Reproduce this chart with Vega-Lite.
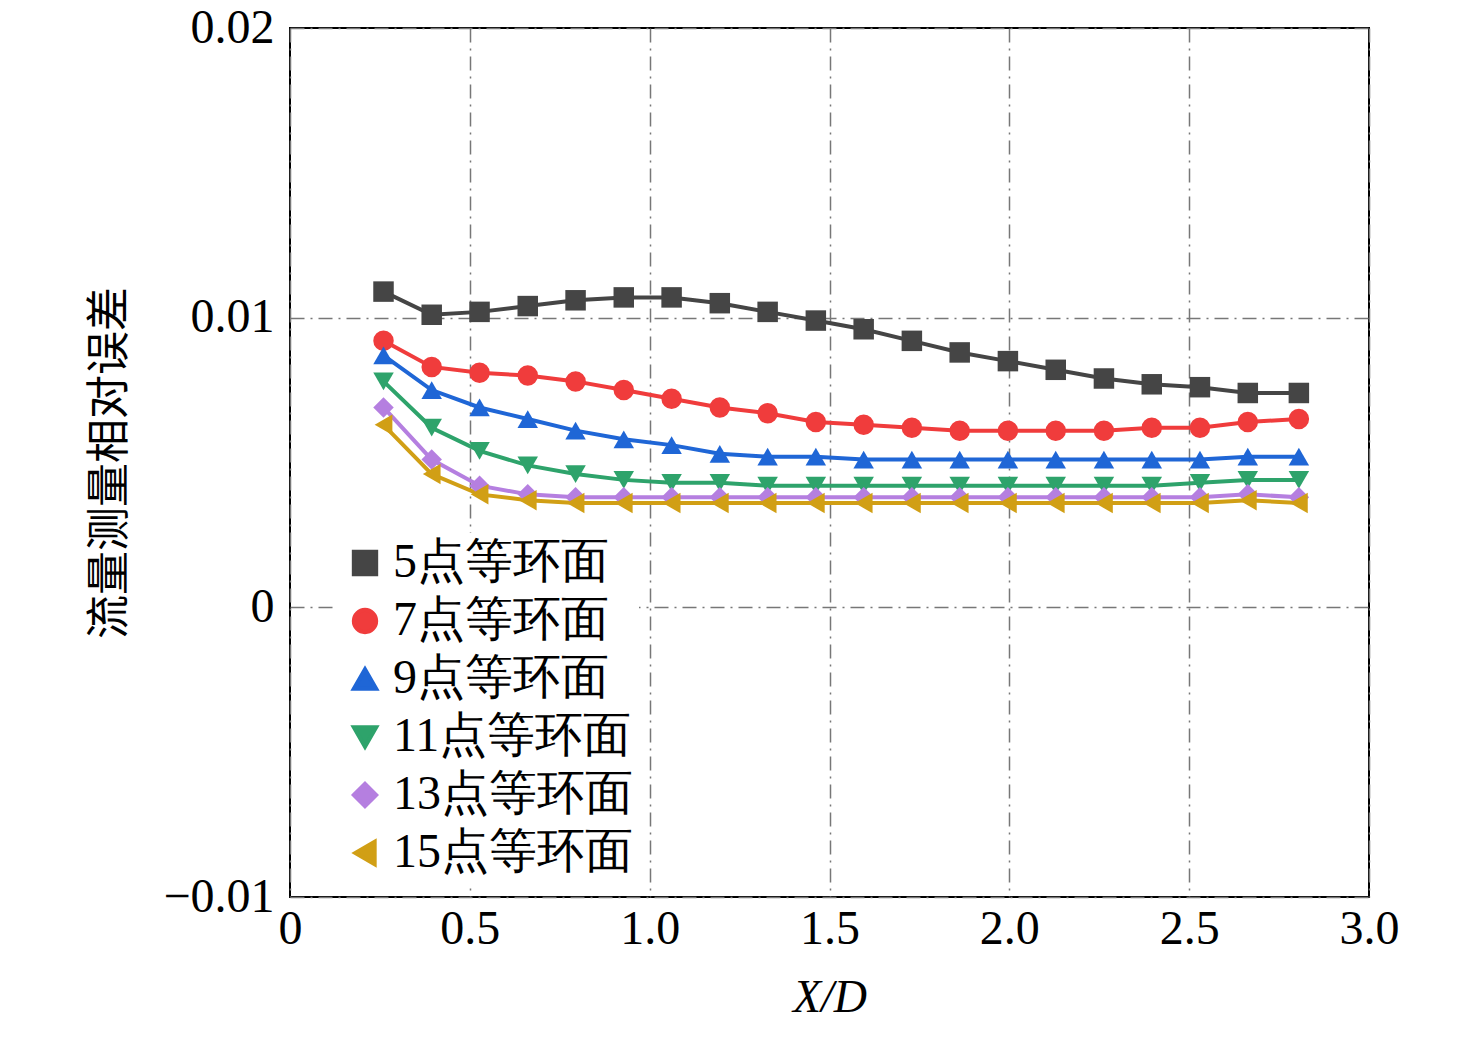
{
"$schema":"https://vega.github.io/schema/vega-lite/v6.json",
"width":1079,"height":869,
"autosize":"none",
"padding":{"left":290,"top":28,"right":107,"bottom":154},
"background":"white",
"config":{"view":{"stroke":"black","strokeWidth":2},"font":"Liberation Serif"},
"data":{"values":[
{"x":0.26,"v":0.0109,"s":"5点等环面"},{"x":0.394,"v":0.0101,"s":"5点等环面"},{"x":0.527,"v":0.0102,"s":"5点等环面"},{"x":0.661,"v":0.0104,"s":"5点等环面"},{"x":0.794,"v":0.0106,"s":"5点等环面"},{"x":0.928,"v":0.0107,"s":"5点等环面"},{"x":1.061,"v":0.0107,"s":"5点等环面"},{"x":1.195,"v":0.0105,"s":"5点等环面"},{"x":1.328,"v":0.0102,"s":"5点等环面"},{"x":1.462,"v":0.0099,"s":"5点等环面"},{"x":1.595,"v":0.0096,"s":"5点等环面"},{"x":1.729,"v":0.0092,"s":"5点等环面"},{"x":1.862,"v":0.0088,"s":"5点等环面"},{"x":1.996,"v":0.0085,"s":"5点等环面"},{"x":2.129,"v":0.0082,"s":"5点等环面"},{"x":2.263,"v":0.0079,"s":"5点等环面"},{"x":2.396,"v":0.0077,"s":"5点等环面"},{"x":2.53,"v":0.0076,"s":"5点等环面"},{"x":2.663,"v":0.0074,"s":"5点等环面"},{"x":2.805,"v":0.0074,"s":"5点等环面"},
{"x":0.26,"v":0.0092,"s":"7点等环面"},{"x":0.394,"v":0.0083,"s":"7点等环面"},{"x":0.527,"v":0.0081,"s":"7点等环面"},{"x":0.661,"v":0.0080,"s":"7点等环面"},{"x":0.794,"v":0.0078,"s":"7点等环面"},{"x":0.928,"v":0.0075,"s":"7点等环面"},{"x":1.061,"v":0.0072,"s":"7点等环面"},{"x":1.195,"v":0.0069,"s":"7点等环面"},{"x":1.328,"v":0.0067,"s":"7点等环面"},{"x":1.462,"v":0.0064,"s":"7点等环面"},{"x":1.595,"v":0.0063,"s":"7点等环面"},{"x":1.729,"v":0.0062,"s":"7点等环面"},{"x":1.862,"v":0.0061,"s":"7点等环面"},{"x":1.996,"v":0.0061,"s":"7点等环面"},{"x":2.129,"v":0.0061,"s":"7点等环面"},{"x":2.263,"v":0.0061,"s":"7点等环面"},{"x":2.396,"v":0.0062,"s":"7点等环面"},{"x":2.53,"v":0.0062,"s":"7点等环面"},{"x":2.663,"v":0.0064,"s":"7点等环面"},{"x":2.805,"v":0.0065,"s":"7点等环面"},
{"x":0.26,"v":0.0087,"s":"9点等环面"},{"x":0.394,"v":0.0075,"s":"9点等环面"},{"x":0.527,"v":0.0069,"s":"9点等环面"},{"x":0.661,"v":0.0065,"s":"9点等环面"},{"x":0.794,"v":0.0061,"s":"9点等环面"},{"x":0.928,"v":0.0058,"s":"9点等环面"},{"x":1.061,"v":0.0056,"s":"9点等环面"},{"x":1.195,"v":0.0053,"s":"9点等环面"},{"x":1.328,"v":0.0052,"s":"9点等环面"},{"x":1.462,"v":0.0052,"s":"9点等环面"},{"x":1.595,"v":0.0051,"s":"9点等环面"},{"x":1.729,"v":0.0051,"s":"9点等环面"},{"x":1.862,"v":0.0051,"s":"9点等环面"},{"x":1.996,"v":0.0051,"s":"9点等环面"},{"x":2.129,"v":0.0051,"s":"9点等环面"},{"x":2.263,"v":0.0051,"s":"9点等环面"},{"x":2.396,"v":0.0051,"s":"9点等环面"},{"x":2.53,"v":0.0051,"s":"9点等环面"},{"x":2.663,"v":0.0052,"s":"9点等环面"},{"x":2.805,"v":0.0052,"s":"9点等环面"},
{"x":0.26,"v":0.0078,"s":"11点等环面"},{"x":0.394,"v":0.0062,"s":"11点等环面"},{"x":0.527,"v":0.0054,"s":"11点等环面"},{"x":0.661,"v":0.0049,"s":"11点等环面"},{"x":0.794,"v":0.0046,"s":"11点等环面"},{"x":0.928,"v":0.0044,"s":"11点等环面"},{"x":1.061,"v":0.0043,"s":"11点等环面"},{"x":1.195,"v":0.0043,"s":"11点等环面"},{"x":1.328,"v":0.0042,"s":"11点等环面"},{"x":1.462,"v":0.0042,"s":"11点等环面"},{"x":1.595,"v":0.0042,"s":"11点等环面"},{"x":1.729,"v":0.0042,"s":"11点等环面"},{"x":1.862,"v":0.0042,"s":"11点等环面"},{"x":1.996,"v":0.0042,"s":"11点等环面"},{"x":2.129,"v":0.0042,"s":"11点等环面"},{"x":2.263,"v":0.0042,"s":"11点等环面"},{"x":2.396,"v":0.0042,"s":"11点等环面"},{"x":2.53,"v":0.0043,"s":"11点等环面"},{"x":2.663,"v":0.0044,"s":"11点等环面"},{"x":2.805,"v":0.0044,"s":"11点等环面"},
{"x":0.26,"v":0.0069,"s":"13点等环面"},{"x":0.394,"v":0.0051,"s":"13点等环面"},{"x":0.527,"v":0.0042,"s":"13点等环面"},{"x":0.661,"v":0.0039,"s":"13点等环面"},{"x":0.794,"v":0.0038,"s":"13点等环面"},{"x":0.928,"v":0.0038,"s":"13点等环面"},{"x":1.061,"v":0.0038,"s":"13点等环面"},{"x":1.195,"v":0.0038,"s":"13点等环面"},{"x":1.328,"v":0.0038,"s":"13点等环面"},{"x":1.462,"v":0.0038,"s":"13点等环面"},{"x":1.595,"v":0.0038,"s":"13点等环面"},{"x":1.729,"v":0.0038,"s":"13点等环面"},{"x":1.862,"v":0.0038,"s":"13点等环面"},{"x":1.996,"v":0.0038,"s":"13点等环面"},{"x":2.129,"v":0.0038,"s":"13点等环面"},{"x":2.263,"v":0.0038,"s":"13点等环面"},{"x":2.396,"v":0.0038,"s":"13点等环面"},{"x":2.53,"v":0.0038,"s":"13点等环面"},{"x":2.663,"v":0.0039,"s":"13点等环面"},{"x":2.805,"v":0.0038,"s":"13点等环面"},
{"x":0.26,"v":0.0063,"s":"15点等环面"},{"x":0.394,"v":0.0046,"s":"15点等环面"},{"x":0.527,"v":0.0039,"s":"15点等环面"},{"x":0.661,"v":0.0037,"s":"15点等环面"},{"x":0.794,"v":0.0036,"s":"15点等环面"},{"x":0.928,"v":0.0036,"s":"15点等环面"},{"x":1.061,"v":0.0036,"s":"15点等环面"},{"x":1.195,"v":0.0036,"s":"15点等环面"},{"x":1.328,"v":0.0036,"s":"15点等环面"},{"x":1.462,"v":0.0036,"s":"15点等环面"},{"x":1.595,"v":0.0036,"s":"15点等环面"},{"x":1.729,"v":0.0036,"s":"15点等环面"},{"x":1.862,"v":0.0036,"s":"15点等环面"},{"x":1.996,"v":0.0036,"s":"15点等环面"},{"x":2.129,"v":0.0036,"s":"15点等环面"},{"x":2.263,"v":0.0036,"s":"15点等环面"},{"x":2.396,"v":0.0036,"s":"15点等环面"},{"x":2.53,"v":0.0036,"s":"15点等环面"},{"x":2.663,"v":0.0037,"s":"15点等环面"},{"x":2.805,"v":0.0036,"s":"15点等环面"}
]},
"encoding":{
"x":{"field":"x","type":"quantitative","scale":{"domain":[0,3],"nice":false},
 "axis":{"values":[0,0.5,1,1.5,2,2.5,3],"labelExpr":"datum.value==0?'0':format(datum.value,'.1f')","labelFontSize":48,"labelColor":"black","labelPadding":8,"labelFlush":false,"labelOverlap":false,"tickSize":0,"domain":false,
 "gridColor":"#777","gridDash":[14,6,2,6],"gridWidth":1.5,
 "title":"X/D","titleFontSize":46,"titleFontStyle":"italic","titleFontWeight":"normal","titlePadding":22,"titleColor":"black"}},
"y":{"field":"v","type":"quantitative","scale":{"domain":[-0.01,0.02],"nice":false},
 "axis":{"values":[-0.01,0,0.01,0.02],"labelExpr":"datum.value==0?'0':(datum.value<0?'−0.01':format(datum.value,'.2f'))","labelFontSize":48,"labelColor":"black","labelPadding":16,"labelFlush":false,"tickSize":0,"domain":false,
 "gridColor":"#777","gridDash":[14,6,2,6],"gridWidth":1.5,
 "title":"流量测量相对误差","titleFont":"Noto Sans CJK SC","titleFontSize":44,"titleFontWeight":"normal","titlePadding":30,"titleColor":"black"}},
"color":{"field":"s","type":"nominal","sort":null,"scale":{"domain":["5点等环面","7点等环面","9点等环面","11点等环面","13点等环面","15点等环面"],"range":["#454545","#f03c3c","#1f66d6","#2ea36b","#b57fe0","#d19f15"]},
 "legend":{"orient":"none","legendX":45,"legendY":505,"title":null,"labelFontSize":48,"labelLimit":0,"labelColor":"black","labelFont":"Liberation Serif","symbolSize":500,"symbolStrokeWidth":4,"rowPadding":10,"fillColor":"white","padding":6}},
"shape":{"field":"s","type":"nominal","sort":null,"scale":{"domain":["5点等环面","7点等环面","9点等环面","11点等环面","13点等环面","15点等环面"],"range":["square","circle","triangle-up","triangle-down","diamond","triangle-left"]},"legend":null}
},
"layer":[
{"mark":{"type":"line","strokeWidth":4}},
{"mark":{"type":"point","filled":true,"size":420,"opacity":1}}
]
}
